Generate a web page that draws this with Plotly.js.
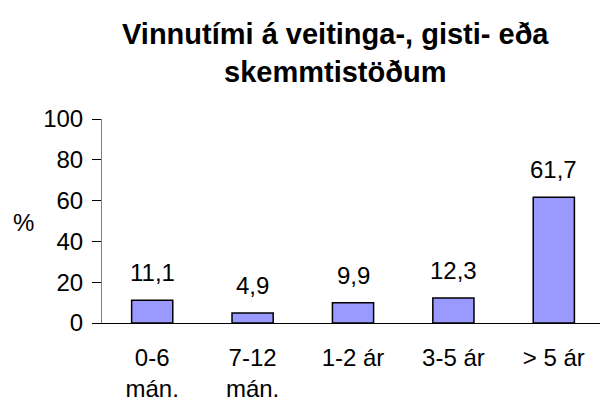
<!DOCTYPE html>
<html>
<head>
<meta charset="utf-8">
<script src="https://cdn.plot.ly/plotly-3.0.1.min.js"></script>
<style>html,body{margin:0;padding:0;background:#fff;}#chart{width:600px;height:407px;}</style>
</head>
<body>
<div id="chart"></div>
<script>
var categories = ["0-6 mán.", "7-12 mán.", "1-2 ár", "3-5 ár", "> 5 ár"];
var tickLabels = ["0-6<br>mán.", "7-12<br>mán.", "1-2 ár", "3-5 ár", "> 5 ár"];
var values = [11.1, 4.9, 9.9, 12.3, 61.7];
var yTicks = [0, 20, 40, 60, 80, 100];
var titleText = "<b>Vinnutími á veitinga-, gisti- eða<br>skemmtistöðum</b>";

var FONT = "Liberation Sans, Arial, sans-serif";

var trace = {
  type: "bar",
  x: categories,
  y: values,
  width: 0.41,
  marker: {color: "#9999FF", line: {color: "#000000", width: 1.5}},
  hoverinfo: "none"
};

var annotations = values.map(function (v, i) {
  return {
    x: categories[i], y: v, xref: "x", yref: "y",
    text: v.toFixed(1).replace(".", ","),
    showarrow: false, yanchor: "bottom", yshift: 12,
    font: {family: FONT, size: 24, color: "#000"}
  };
});
annotations.push({
  x: (23 - 102) / 498, y: 1 - (222 - 119) / 204, xref: "paper", yref: "paper",
  text: "%", showarrow: false, xanchor: "center", yanchor: "middle",
  font: {family: FONT, size: 24, color: "#000"}
});
annotations.push({
  x: (335 - 102) / 498, y: 1 + (119 - 16) / 204, xref: "paper", yref: "paper",
  text: titleText, showarrow: false, xanchor: "center", yanchor: "top",
  align: "center",
  font: {family: FONT, size: 29, color: "#000"}
});

var layout = {
  width: 600, height: 407,
  margin: {l: 102, r: 0, t: 119, b: 84, pad: 0},
  paper_bgcolor: "#fff", plot_bgcolor: "#fff",
  showlegend: false,
  xaxis: {
    type: "category",
    range: [-0.5, 4.46],
    tickvals: categories, ticktext: tickLabels,
    ticks: "", showgrid: false, zeroline: false,
    showline: true, linecolor: "#000", linewidth: 1,
    ticklabelstandoff: 13,
    tickfont: {family: FONT, size: 24, color: "#000"},
    fixedrange: true
  },
  yaxis: {
    range: [0, 100],
    tickvals: yTicks,
    ticks: "outside", ticklen: 9, tickcolor: "#000", tickwidth: 1,
    showgrid: false, zeroline: false,
    showline: true, linecolor: "#808080", linewidth: 1,
    ticklabelstandoff: 4,
    tickfont: {family: FONT, size: 24, color: "#000"},
    fixedrange: true
  },
  annotations: annotations
};

Plotly.newPlot("chart", [trace], layout, {displayModeBar: false, staticPlot: true});
</script>
</body>
</html>
